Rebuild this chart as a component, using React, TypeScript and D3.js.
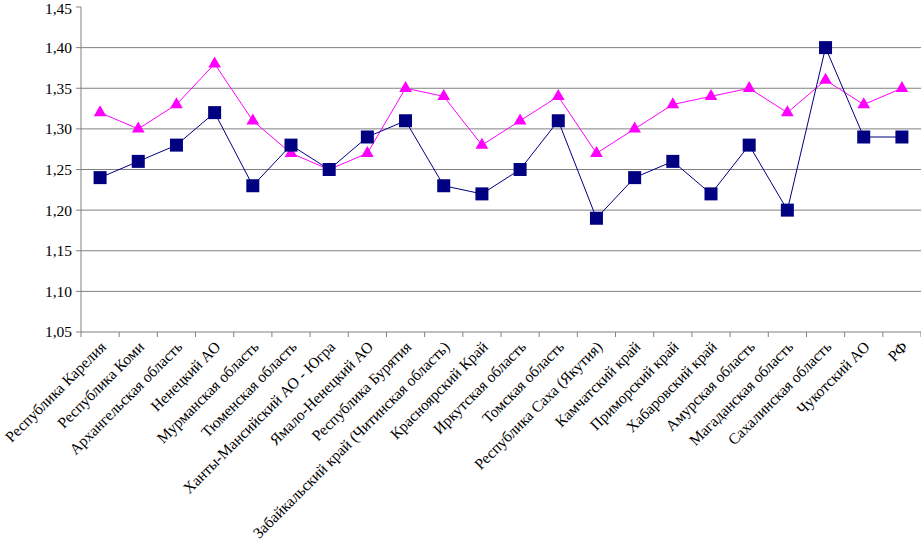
import { useEffect, useRef } from 'react';
import * as d3 from 'd3';

const regions = [
  'Республика Карелия',
  'Республика Коми',
  'Архангельская область',
  'Ненецкий АО',
  'Мурманская область',
  'Тюменская область',
  'Ханты-Мансийский АО - Югра',
  'Ямало-Ненецкий АО',
  'Республика Бурятия',
  'Забайкальский край (Читинская область)',
  'Красноярский Край',
  'Иркутская область',
  'Томская область',
  'Республика Саха (Якутия)',
  'Камчатский край',
  'Приморский край',
  'Хабаровский край',
  'Амурская область',
  'Магаданская область',
  'Сахалинская область',
  'Чукотский АО',
  'РФ',
];

const squareSeries = [
  1.24, 1.26, 1.28, 1.32, 1.23, 1.28, 1.25, 1.29, 1.31, 1.23, 1.22,
  1.25, 1.31, 1.19, 1.24, 1.26, 1.22, 1.28, 1.2, 1.4, 1.29, 1.29,
];

const triangleSeries = [
  1.32, 1.3, 1.33, 1.38, 1.31, 1.27, 1.25, 1.27, 1.35, 1.34, 1.28,
  1.31, 1.34, 1.27, 1.3, 1.33, 1.34, 1.35, 1.32, 1.36, 1.33, 1.35,
];

const yTicks = [1.05, 1.1, 1.15, 1.2, 1.25, 1.3, 1.35, 1.4, 1.45];

const width = 921;
const height = 551;
const margin = { top: 7, right: 0, bottom: 219, left: 81 };
const font = "'Liberation Serif', 'Times New Roman', 'DejaVu Serif', serif";
const fmt = (v: number) => v.toFixed(2).replace('.', ',');

export default function App() {
  const svgRef = useRef<SVGSVGElement>(null);

  useEffect(() => {
    document.body.style.margin = '0';
    const svg = d3.select(svgRef.current!);
    svg.selectAll('*').remove();

    const x = d3
      .scaleBand()
      .domain(regions)
      .range([margin.left, width - margin.right]);
    const y = d3
      .scaleLinear()
      .domain([1.05, 1.45])
      .range([height - margin.bottom, margin.top]);
    const cx = (name: string) => (x(name) as number) + x.bandwidth() / 2;
    const bottom = height - margin.bottom;

    // gridlines
    svg
      .append('g')
      .selectAll('line')
      .data(yTicks.filter((t) => t > 1.05 && t < 1.45))
      .enter()
      .append('line')
      .attr('x1', margin.left)
      .attr('x2', width - margin.right)
      .attr('y1', (d) => y(d))
      .attr('y2', (d) => y(d))
      .attr('stroke', '#808080')
      .attr('stroke-width', 1);

    // y axis
    const yAxis = svg.append('g');
    yAxis
      .append('line')
      .attr('x1', margin.left)
      .attr('x2', margin.left)
      .attr('y1', y(1.45))
      .attr('y2', bottom)
      .attr('stroke', '#808080');
    yAxis
      .selectAll('line.tick')
      .data(yTicks)
      .enter()
      .append('line')
      .attr('class', 'tick')
      .attr('x1', margin.left - 5)
      .attr('x2', margin.left)
      .attr('y1', (d) => y(d))
      .attr('y2', (d) => y(d))
      .attr('stroke', '#808080');
    yAxis
      .selectAll('text')
      .data(yTicks)
      .enter()
      .append('text')
      .attr('x', margin.left - 9)
      // keep the top label inside the picture
      .attr('y', (d) => Math.max(y(d), 9))
      .attr('dy', '0.35em')
      .attr('text-anchor', 'end')
      .style('font-family', font)
      .style('font-size', '15.5px')
      .text((d) => fmt(d));

    // x axis
    const xAxis = svg.append('g');
    xAxis
      .append('line')
      .attr('x1', margin.left)
      .attr('x2', width - margin.right)
      .attr('y1', bottom)
      .attr('y2', bottom)
      .attr('stroke', '#808080');
    xAxis
      .selectAll('line.tick')
      .data(d3.range(regions.length + 1))
      .enter()
      .append('line')
      .attr('class', 'tick')
      .attr('x1', (i) => margin.left + i * x.step())
      .attr('x2', (i) => margin.left + i * x.step())
      .attr('y1', bottom)
      .attr('y2', bottom + 5)
      .attr('stroke', '#808080');
    xAxis
      .selectAll('text')
      .data(regions)
      .enter()
      .append('text')
      .attr('transform', (d) => `translate(${cx(d) + 3},${bottom + 12}) rotate(-45)`)
      .attr('dy', '0.35em')
      .attr('text-anchor', 'end')
      .style('font-family', font)
      .style('font-size', '15.5px')
      .text((d) => d);

    const line = d3
      .line<number>()
      .x((_, i) => cx(regions[i]))
      .y((d) => y(d));

    // triangle series
    svg
      .append('path')
      .datum(triangleSeries)
      .attr('d', line)
      .attr('fill', 'none')
      .attr('stroke', '#FF00FF')
      .attr('stroke-width', 1);
    const tri = d3.symbol().type(d3.symbolTriangle).size(70);
    svg
      .append('g')
      .selectAll('path')
      .data(triangleSeries)
      .enter()
      .append('path')
      .attr('d', tri)
      .attr('transform', (d, i) => `translate(${cx(regions[i])},${y(d)})`)
      .attr('fill', '#FF00FF');

    // square series
    svg
      .append('path')
      .datum(squareSeries)
      .attr('d', line)
      .attr('fill', 'none')
      .attr('stroke', '#000080')
      .attr('stroke-width', 1);
    const sq = 13;
    svg
      .append('g')
      .selectAll('rect')
      .data(squareSeries)
      .enter()
      .append('rect')
      .attr('x', (_, i) => cx(regions[i]) - sq / 2)
      .attr('y', (d) => y(d) - sq / 2)
      .attr('width', sq)
      .attr('height', sq)
      .attr('fill', '#000080');
  }, []);

  return (
    <svg
      ref={svgRef}
      width={width}
      height={height}
      style={{ display: 'block', background: '#fff' }}
    />
  );
}
